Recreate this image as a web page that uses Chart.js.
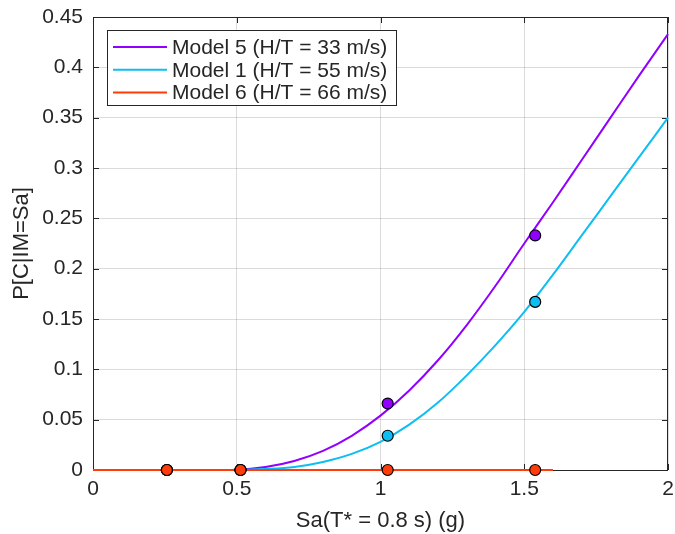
<!DOCTYPE html>
<html>
<head>
<meta charset="utf-8">
<script src="https://cdn.jsdelivr.net/npm/chart.js@4/dist/chart.umd.min.js"></script>
<style>
  html, body { margin: 0; padding: 0; background: #fff; }
  #wrap { width: 675px; height: 534px; }
</style>
</head>
<body>
<div id="wrap"><canvas id="fragility" width="675" height="534"></canvas></div>
<script>
// fragility curves, Sa grid in g
const sa = [0, 0.1, 0.2, 0.3, 0.4, 0.5, 0.6, 0.7, 0.8, 0.9, 1.0,
            1.1, 1.2, 1.3, 1.4, 1.5, 1.6, 1.7, 1.8, 1.9, 2.0];
const model5 = [0, 0, 0, 0, 0, 0.0003, 0.003, 0.009, 0.019, 0.034, 0.054,
                0.079, 0.109, 0.144, 0.183, 0.225, 0.266, 0.308, 0.350, 0.392, 0.433];
const model1 = [0, 0, 0, 0, 0, 0.0001, 0.001, 0.003, 0.008, 0.016, 0.028,
                0.045, 0.067, 0.094, 0.124, 0.157, 0.194, 0.233, 0.272, 0.311, 0.350];
// model 6 curve is only evaluated up to 1.6 g
const model6 = [0, 0, 0, 0, 0, 0, 0, 0, 0, 0, 0,
                0, 0, 0, 0, 0, 0];

// observed collapse fractions at the analysed stripes
const stripes = [0.257, 0.513, 1.025, 1.538];
const obs5 = [0, 0, 0.066, 0.233];
const obs1 = [0, 0, 0.034, 0.167];
const obs6 = [0, 0, 0, 0];

const xTicks = [0, 0.5, 1, 1.5, 2];
const yTicks = [0, 0.05, 0.1, 0.15, 0.2, 0.25, 0.3, 0.35, 0.4, 0.45];

const legendLabels = ['Model 5 (H/T = 33 m/s)', 'Model 1 (H/T = 55 m/s)', 'Model 6 (H/T = 66 m/s)'];
const colors = ['#9100ff', '#0ebef2', '#ff3c0a'];
const ink = '#262626';

const pairs = (xs, ys) => ys.map((y, i) => ({ x: xs[i], y: y }));

const curve = (ys, color, order) => ({
  data: pairs(sa, ys),
  showLine: true,
  borderColor: color,
  borderWidth: 2,
  pointRadius: 0,
  cubicInterpolationMode: 'monotone',
  clip: false,
  order: order
});
const marks = (ys, color, order) => ({
  data: pairs(stripes, ys),
  showLine: false,
  backgroundColor: color,
  borderColor: '#000',
  borderWidth: 1.2,
  pointRadius: 5.5,
  clip: false,
  order: order
});

// box, inward ticks (drawn under the data) and the legend (drawn last)
const matlabAxes = {
  id: 'matlabAxes',
  beforeDatasetsDraw(chart) {
    const { ctx, chartArea: a, scales } = chart;
    ctx.save();
    ctx.strokeStyle = ink;
    ctx.lineWidth = 1;
    ctx.strokeRect(a.left + 0.5, a.top + 0.5, a.right - a.left - 1, a.bottom - a.top);
    ctx.beginPath();
    xTicks.forEach(v => {
      const px = Math.round(scales.x.getPixelForValue(v)) + 0.5;
      ctx.moveTo(px, a.bottom); ctx.lineTo(px, a.bottom - 6);
      ctx.moveTo(px, a.top); ctx.lineTo(px, a.top + 6);
    });
    yTicks.forEach(v => {
      const py = Math.round(scales.y.getPixelForValue(v)) + 0.5;
      ctx.moveTo(a.left, py); ctx.lineTo(a.left + 6, py);
      ctx.moveTo(a.right, py); ctx.lineTo(a.right - 6, py);
    });
    ctx.stroke();
    ctx.restore();
  },
  afterDraw(chart) {
    const { ctx } = chart;
    const bx = 107.5, by = 30.5, bw = 289, bh = 75;
    ctx.save();
    ctx.fillStyle = '#fff';
    ctx.fillRect(bx, by, bw, bh);
    ctx.strokeStyle = ink;
    ctx.lineWidth = 1;
    ctx.strokeRect(bx, by, bw, bh);
    ctx.font = '21px "Liberation Sans", Arial, sans-serif';
    ctx.textBaseline = 'middle';
    ctx.fillStyle = ink;
    legendLabels.forEach((t, i) => {
      const y = 47 + i * 22.8;
      ctx.strokeStyle = colors[i];
      ctx.lineWidth = 2;
      ctx.beginPath();
      ctx.moveTo(113, y); ctx.lineTo(167, y);
      ctx.stroke();
      ctx.fillText(t, 172, y + 1);
    });
    ctx.restore();
  }
};

const tickFont = { family: '"Liberation Sans", Arial, sans-serif', size: 21 };
const titleFont = { family: '"Liberation Sans", Arial, sans-serif', size: 22 };

new Chart(document.getElementById('fragility'), {
  type: 'scatter',
  data: {
    datasets: [
      marks(obs6, colors[2], 0),
      marks(obs1, colors[1], 1),
      marks(obs5, colors[0], 2),
      curve(model6, colors[2], 3),
      curve(model1, colors[1], 4),
      curve(model5, colors[0], 5)
    ]
  },
  options: {
    responsive: false,
    animation: false,
    layout: { padding: 0 },
    plugins: { legend: { display: false }, tooltip: { enabled: false } },
    scales: {
      x: {
        type: 'linear',
        min: 0, max: 2,
        afterBuildTicks: s => { s.ticks = xTicks.map(v => ({ value: v })); },
        afterFit: s => { s.height = 64; s.paddingLeft = 0; s.paddingRight = 7; },
        grid: { color: 'rgba(0,0,0,0.14)', drawTicks: false },
        border: { display: false },
        ticks: { font: tickFont, color: ink, padding: 7, maxRotation: 0,
                 callback: v => String(+v.toFixed(2)) },
        title: { display: true, text: 'Sa(T* = 0.8 s) (g)', font: titleFont, color: ink,
                 padding: { top: 0, bottom: 0 } }
      },
      y: {
        type: 'linear',
        min: 0, max: 0.45,
        afterBuildTicks: s => { s.ticks = yTicks.map(v => ({ value: v })); },
        afterFit: s => { s.width = 93; s.paddingTop = 17; s.paddingBottom = 0; },
        grid: { color: 'rgba(0,0,0,0.14)', drawTicks: false },
        border: { display: false },
        ticks: { font: tickFont, color: ink, padding: 10,
                 callback: v => String(+v.toFixed(2)) },
        title: { display: true, text: 'P[C|IM=Sa]', font: titleFont, color: ink,
                 padding: { top: 9, bottom: 0 } }
      }
    }
  },
  plugins: [matlabAxes]
});
</script>
</body>
</html>
